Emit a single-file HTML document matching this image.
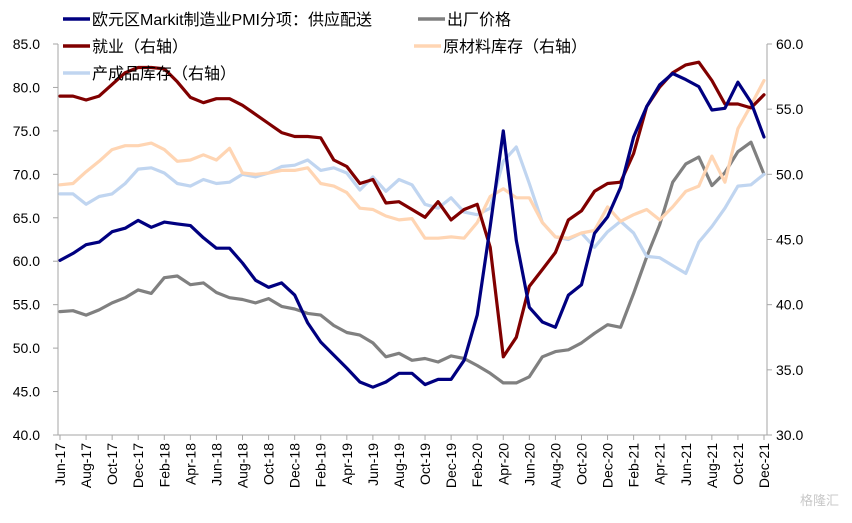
<!DOCTYPE html>
<html><head><meta charset="utf-8"><style>
html,body{margin:0;padding:0;background:#fff;}
svg text{font-family:"Liberation Sans","Noto Sans CJK SC",sans-serif;}
</style></head><body>
<svg id="chart" width="852" height="518" viewBox="0 0 852 518" xmlns="http://www.w3.org/2000/svg">
<g id="axes"></g>
<g id="series"></g>
<g id="legend"></g>
</svg>
<script>
const monthsLabels = ["Jun-17","Aug-17","Oct-17","Dec-17","Feb-18","Apr-18","Jun-18","Aug-18","Oct-18","Dec-18","Feb-19","Apr-19","Jun-19","Aug-19","Oct-19","Dec-19","Feb-20","Apr-20","Jun-20","Aug-20","Oct-20","Dec-20","Feb-21","Apr-21","Jun-21","Aug-21","Oct-21","Dec-21"];
const leftTicks = [40,45,50,55,60,65,70,75,80,85];
const rightTicks = [30,35,40,45,50,55,60];
const supplyDelivery = [60.1,60.9,61.9,62.2,63.4,63.8,64.7, 63.9,64.5,64.3,64.1,62.7,61.5,61.5,59.8,57.8,57.0,57.5,56.1, 52.9,50.7,49.2,47.7,46.1,45.5,46.1,47.1,47.1,45.8,46.4,46.4, 48.6,53.8,64.0,75.0,62.4,54.7,53.0,52.4,56.1,57.3,63.2,65.1, 68.5,74.3,77.8,80.3,81.6,80.9,80.1,77.4,77.6,80.6,78.3,74.3];
const outputPrice = [54.2,54.3,53.8,54.4,55.2,55.8,56.7, 56.3,58.1,58.3,57.3,57.5,56.4,55.8,55.6,55.2,55.7,54.8,54.5, 54.0,53.8,52.6,51.8,51.5,50.6,49.0,49.4,48.6,48.8,48.4,49.1, 48.8,48.0,47.1,46.0,46.0,46.7,49.0,49.6,49.8,50.6,51.7,52.7, 52.4,56.3,60.5,64.2,69.1,71.2,72.0,68.7,70.2,72.6,73.7,70.0];
const employment = [56.0,56.0,55.7,56.0,56.9,57.8,58.2, 58.2,58.1,57.1,55.9,55.5,55.8,55.8,55.3,54.6,53.9,53.2,52.9, 52.9,52.8,51.1,50.6,49.3,49.6,47.8,47.9,47.3,46.7,47.9,46.5, 47.3,47.7,44.4,36.0,37.5,41.4,42.7,44.0,46.5,47.2,48.7,49.3, 49.4,51.6,55.2,56.7,57.8,58.4,58.6,57.2,55.4,55.4,55.1,56.1];
const rawInventory = [49.2,49.3,50.2,51.0,51.9,52.2,52.2, 52.4,51.9,51.0,51.1,51.5,51.1,52.0,50.1,50.0,50.1,50.3,50.3, 50.5,49.3,49.1,48.6,47.4,47.3,46.8,46.5,46.6,45.1,45.1,45.2, 45.1,46.3,48.3,48.9,48.2,48.2,46.3,45.2,45.1,45.5,45.7,47.5, 46.4,46.9,47.3,46.5,47.5,48.7,49.1,51.4,49.4,53.5,55.3,57.2];
const finishedInventory = [48.5,48.5,47.7,48.3,48.5,49.3,50.4, 50.5,50.1,49.3,49.1,49.6,49.3,49.4,50.0,49.8,50.1,50.6,50.7, 51.1,50.3,50.5,50.1,48.8,49.8,48.7,49.6,49.2,47.7,47.4,48.2, 47.1,46.9,47.4,51.0,52.1,49.3,46.3,45.2,45.0,45.5,44.4,45.6, 46.4,45.5,43.7,43.6,43.0,42.4,44.8,46.0,47.4,49.1,49.2,50.0];

const X0=60, X1=764, Y0=435, Y1=44;
const N = supplyDelivery.length;
const xAt = i => X0 + (X1-X0)*i/(N-1);
const yL = v => Y0 - (v-40)/(85-40)*(Y0-Y1);
const yR = v => Y0 - (v-30)/(60-30)*(Y0-Y1);
const NS="http://www.w3.org/2000/svg";
function mk(tag, attrs, parent){const e=document.createElementNS(NS,tag);for(const k in attrs)e.setAttribute(k,attrs[k]);parent.appendChild(e);return e;}
const axes=document.getElementById('axes');
const ser=document.getElementById('series');
const leg=document.getElementById('legend');

let a=mk('line',{x1:58,y1:Y1,x2:58,y2:Y0,stroke:'#a6a6a6','stroke-width':1},axes);


a=mk('line',{x1:767,y1:Y1,x2:767,y2:Y0,stroke:'#a6a6a6','stroke-width':1},axes);


a=mk('line',{x1:58,y1:Y0,x2:767,y2:Y0,stroke:'#a6a6a6','stroke-width':1},axes);



leftTicks.forEach(v=>{
  const y=yL(v);
  const tk=mk('line',{x1:53,y1:y,x2:58,y2:y,stroke:'#a6a6a6'},axes);
  
  
  const t=mk('text',{x:40,y:y+5,'text-anchor':'end','font-size':14,fill:'#000'},axes);
  t.textContent=v.toFixed(1);
  
  
});
rightTicks.forEach(v=>{
  const y=yR(v);
  const tk=mk('line',{x1:767,y1:y,x2:772,y2:y,stroke:'#a6a6a6'},axes);
  
  
  const t=mk('text',{x:776,y:y+5,'text-anchor':'start','font-size':14,fill:'#000'},axes);
  t.textContent=v.toFixed(1);
  
  
});
monthsLabels.forEach((lab,k)=>{
  const x=xAt(k*2);
  const tk=mk('line',{x1:x,y1:Y0,x2:x,y2:Y0+5,stroke:'#a6a6a6'},axes);
  
  
  const t=mk('text',{x:0,y:0,'text-anchor':'end','font-size':14,fill:'#000',transform:`translate(${x+5},${Y0+8}) rotate(-90)`},axes);
  t.textContent=lab;
  
  
});

function drawLine(arr, yf, color, name){
  const pts=arr.map((v,i)=>xAt(i).toFixed(1)+','+yf(v).toFixed(1)).join(' ');
  const p=mk('polyline',{points:pts,fill:'none',stroke:color,'stroke-width':3.2,'stroke-linejoin':'round','stroke-linecap':'round'},ser);
  
  
}
drawLine(outputPrice,yL,'#808080','output-price-line');
drawLine(finishedInventory,yR,'#c0d5f0','finished-inventory-line');
drawLine(rawInventory,yR,'#ffd5b3','raw-inventory-line');
drawLine(employment,yR,'#800000','employment-line');
drawLine(supplyDelivery,yL,'#000080','supply-delivery-line');

function legendEntry(x,y,color,label,name){
  const g=mk('g',{},leg);
  
  
  mk('line',{x1:x,y1:y,x2:x+27,y2:y,stroke:color,'stroke-width':3.5},g);
  const t=mk('text',{x:x+29,y:y+6,'font-size':16,fill:'#000'},g);
  t.textContent=label;
}
legendEntry(63,19,'#000080','欧元区Markit制造业PMI分项：供应配送','legend-supply-delivery');
legendEntry(418,19,'#808080','出厂价格','legend-output-price');
legendEntry(63,46,'#800000','就业（右轴）','legend-employment');
legendEntry(414,46,'#ffd5b3','原材料库存（右轴）','legend-raw-inventory');
legendEntry(63,73,'#c0d5f0','产成品库存（右轴）','legend-finished-inventory');

const wm=mk('text',{x:800,y:505,'font-size':13,fill:'#c8c8c8'},axes);
wm.textContent='格隆汇';


</script>
</body></html>
